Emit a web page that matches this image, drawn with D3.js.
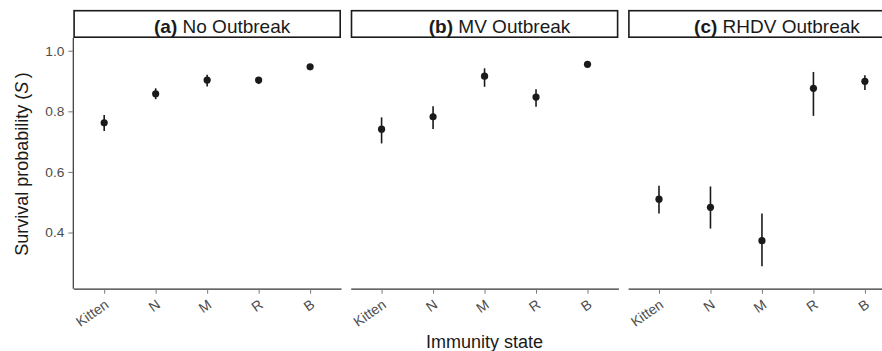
<!DOCTYPE html>
<html>
<head>
<meta charset="utf-8">
<script src="https://cdn.jsdelivr.net/npm/d3@7"></script>
<style>
  body { margin: 0; background: #fff; }
  svg text { font-family: "Liberation Sans", Arial, sans-serif; }
</style>
</head>
<body>
<div id="chart"></div>
<script>
// categories and facet labels
var states = ["Kitten", "N", "M", "R", "B"];
var panelTags = ["(a)", "(b)", "(c)"];
var panelNames = ["No Outbreak", "MV Outbreak", "RHDV Outbreak"];
var yTicks = [0.4, 0.6, 0.8, 1.0];

// survival estimates with lower / upper bounds, one array per panel
var noOutbreakEst = [0.762, 0.858, 0.903, 0.903, 0.947];
var noOutbreakLo  = [0.735, 0.840, 0.882, 0.890, 0.940];
var noOutbreakHi  = [0.788, 0.876, 0.921, 0.912, 0.954];

var mvEst = [0.741, 0.782, 0.916, 0.847, 0.955];
var mvLo  = [0.694, 0.742, 0.881, 0.815, 0.950];
var mvHi  = [0.780, 0.817, 0.942, 0.873, 0.960];

var rhdvEst = [0.510, 0.483, 0.373, 0.876, 0.899];
var rhdvLo  = [0.463, 0.413, 0.289, 0.785, 0.870];
var rhdvHi  = [0.554, 0.552, 0.463, 0.930, 0.919];

var panels = [
  { est: noOutbreakEst, lo: noOutbreakLo, hi: noOutbreakHi },
  { est: mvEst, lo: mvLo, hi: mvHi },
  { est: rhdvEst, lo: rhdvLo, hi: rhdvHi }
];

var width = 882, height = 351;
var panelLeft = 73.3, panelW = 267.7, panelGap = 9.7;
var plotTop = 38, plotBottom = 288.7;
var stripTop = 10.7;

var svg = d3.select('#chart').append('svg')
  .attr('width', width).attr('height', height);

var y = d3.scaleLinear().domain([0.2145, 1.042]).range([plotBottom, plotTop]);
var x = d3.scalePoint().domain(states).range([0, panelW]).padding(0.6);

panels.forEach(function (p, i) {
  var left = panelLeft + i * (panelW + panelGap);
  var g = svg.append('g').attr('transform', 'translate(' + left + ',0)');

  // strip
  g.append('rect')
    .attr('x', 0.8).attr('y', stripTop)
    .attr('width', panelW - 1.6).attr('height', plotTop - stripTop - 0.8)
    .attr('fill', '#fff').attr('stroke', '#1a1a1a').attr('stroke-width', 1.6);
  var st = g.append('text')
    .attr('x', panelW / 2 + 15).attr('y', 33)
    .attr('text-anchor', 'middle')
    .attr('font-size', 19).attr('fill', '#1a1a1a');
  st.append('tspan').attr('font-weight', 'bold').text(panelTags[i]);
  st.append('tspan').text(' ' + panelNames[i]);

  // bottom axis
  var ax = g.append('g').attr('transform', 'translate(0,' + plotBottom + ')')
    .call(d3.axisBottom(x).tickSizeInner(5).tickSizeOuter(0).tickPadding(3));
  ax.select('.domain').attr('stroke', '#333').attr('stroke-width', 1.2);
  ax.selectAll('.tick line').attr('stroke', '#777').attr('stroke-width', 1);
  ax.selectAll('.tick text')
    .attr('fill', '#4d4d4d').attr('font-size', 14)
    .attr('text-anchor', 'end')
    .attr('dy', null)
    .attr('transform', 'translate(5,18) rotate(-35)')
    .attr('y', 0).attr('x', 0);

  if (i === 0) {
    var ay = g.append('g')
      .call(d3.axisLeft(y).tickValues(yTicks).tickFormat(d3.format('.1f'))
        .tickSizeInner(5).tickSizeOuter(0).tickPadding(4));
    ay.select('.domain').attr('stroke', '#333').attr('stroke-width', 1.2)
      .attr('d', 'M0,' + plotTop + 'V' + plotBottom);
    ay.selectAll('.tick line').attr('stroke', '#777');
    ay.selectAll('.tick text').attr('fill', '#4d4d4d').attr('font-size', 13.7);
  }

  // error bars and points
  g.selectAll('line.err').data(states).enter().append('line')
    .attr('class', 'err')
    .attr('x1', function (d) { return x(d); })
    .attr('x2', function (d) { return x(d); })
    .attr('y1', function (d, k) { return y(p.lo[k]); })
    .attr('y2', function (d, k) { return y(p.hi[k]); })
    .attr('stroke', '#1a1a1a').attr('stroke-width', 1.6);
  g.selectAll('circle.pt').data(states).enter().append('circle')
    .attr('class', 'pt')
    .attr('cx', function (d) { return x(d); })
    .attr('cy', function (d, k) { return y(p.est[k]); })
    .attr('r', 3.6)
    .attr('fill', '#1a1a1a');
});

// axis titles
var yt = svg.append('text')
  .attr('transform', 'translate(28.3,164) rotate(-90)')
  .attr('text-anchor', 'middle').attr('font-size', 18).attr('fill', '#1a1a1a');
yt.append('tspan').text('Survival probability (');
yt.append('tspan').attr('font-style', 'italic').text('S');
yt.append('tspan').text('\u2009)');

svg.append('text')
  .attr('x', panelLeft + (3 * panelW + 2 * panelGap) / 2).attr('y', 348)
  .attr('text-anchor', 'middle').attr('font-size', 18).attr('fill', '#1a1a1a')
  .text('Immunity state');
</script>
</body>
</html>
